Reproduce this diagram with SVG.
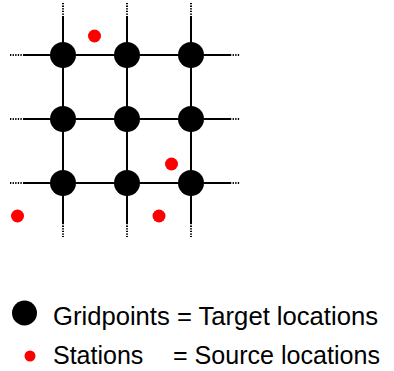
<svg xmlns="http://www.w3.org/2000/svg" width="394" height="371" viewBox="0 0 394 371">
  <style>
    .solid { stroke: #000; stroke-width: 2; fill: none; }
    .dots { stroke: #000; stroke-width: 2; fill: none; stroke-dasharray: 1.3 1.3; }
    .grid { fill: #000; }
    .station { fill: #ff0000; }
    .label { font-family: "Liberation Sans", Arial, sans-serif; font-size: 25px; fill: #000; }
  </style>
  <rect width="394" height="371" fill="#ffffff"/>

  <g id="connectors">
    <!-- vertical grid lines -->
    <path class="solid" d="M63 17V223M127 17V223M191 17V223"/>
    <path class="dots" d="M63 3V17M127 3V17M191 3V17M63 223V237M127 223V237M191 223V237"/>
    <!-- horizontal grid lines -->
    <path class="solid" d="M23 55H230M23 119H230M23 183H230"/>
    <path class="dots" d="M10 55H23M10 119H23M10 183H23M230 55H240M230 119H240M230 183H240"/>
  </g>

  <g id="gridpoints">
    <circle id="gp-1-1" class="grid" cx="63" cy="55" r="13"/>
    <circle id="gp-1-2" class="grid" cx="127" cy="55" r="13"/>
    <circle id="gp-1-3" class="grid" cx="191" cy="55" r="13"/>
    <circle id="gp-2-1" class="grid" cx="63" cy="119" r="13"/>
    <circle id="gp-2-2" class="grid" cx="127" cy="119" r="13"/>
    <circle id="gp-2-3" class="grid" cx="191" cy="119" r="13"/>
    <circle id="gp-3-1" class="grid" cx="63" cy="183" r="13"/>
    <circle id="gp-3-2" class="grid" cx="127" cy="183" r="13"/>
    <circle id="gp-3-3" class="grid" cx="191" cy="183" r="13"/>
  </g>

  <g id="stations">
    <circle id="st-1" class="station" cx="94.5" cy="36" r="6.5"/>
    <circle id="st-2" class="station" cx="171.5" cy="164" r="6.5"/>
    <circle id="st-3" class="station" cx="17.5" cy="216" r="6.5"/>
    <circle id="st-4" class="station" cx="159" cy="216" r="6.5"/>
  </g>

  <g id="legend-gridpoints">
    <circle class="grid" cx="24.5" cy="313" r="12.5"/>
    <text class="label" x="53" y="325" textLength="325" lengthAdjust="spacingAndGlyphs">Gridpoints = Target locations</text>
  </g>
  <g id="legend-stations">
    <circle class="station" cx="30" cy="356" r="5.5"/>
    <text class="label" x="53" y="364">Stations</text>
    <text class="label" x="173" y="364" textLength="207" lengthAdjust="spacingAndGlyphs">= Source locations</text>
  </g>
</svg>
